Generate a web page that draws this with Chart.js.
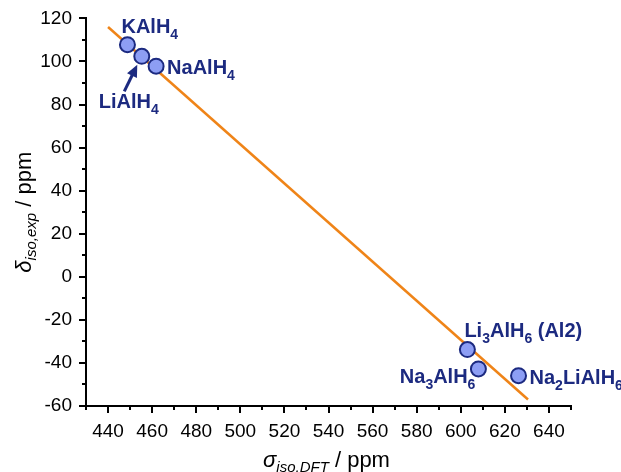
<!DOCTYPE html>
<html>
<head>
<meta charset="utf-8">
<script src="https://cdn.jsdelivr.net/npm/chart.js@4.4.0/dist/chart.umd.min.js"></script>
<style>
  body { margin: 0; background: #fff; }
  #wrap { width: 621px; height: 472px; }
</style>
</head>
<body>
<div id="wrap"><canvas id="nmr-chart" width="621" height="472"></canvas></div>
<script>
// compounds and their shifts
let compounds = ["KAlH4", "LiAlH4", "NaAlH4", "Li3AlH6 (Al2)", "Na3AlH6", "Na2LiAlH6"]
let sigmaDFT = [448.8, 455.3, 461.8, 603.0, 608.0, 626.2]
let deltaExp = [107.8, 102.4, 97.8, -33.8, -42.8, -45.9]

// linear fit line, two ends
let fitX = [440, 630.5]
let fitY = [116, -57]

let xTicks = [440, 460, 480, 500, 520, 540, 560, 580, 600, 620, 640]
let yTicks = [-60, -40, -20, 0, 20, 40, 60, 80, 100, 120]

let navy = "#1c2a80"
let font = "'Liberation Sans', Arial, sans-serif"

// rich text: list of [text, isSub]
let labelParts = {
    "KAlH4": [["KAlH", 0], ["4", 1]],
    "LiAlH4": [["LiAlH", 0], ["4", 1]],
    "NaAlH4": [["NaAlH", 0], ["4", 1]],
    "Li3AlH6 (Al2)": [["Li", 0], ["3", 1], ["AlH", 0], ["6", 1], [" (Al2)", 0]],
    "Na3AlH6": [["Na", 0], ["3", 1], ["AlH", 0], ["6", 1]],
    "Na2LiAlH6": [["Na", 0], ["2", 1], ["LiAlH", 0], ["6", 1]]
}
// label placement relative to its point: dx, dy (baseline), align
let labelPlace = [[-6, -12, "left"], [-43, 52, "left"], [11, 8, "left"],
                  [-3, -13, "left"], [-3, 14, "right"], [11, 8.5, "left"]]

function richWidth(ctx, parts, big, small, style) {
    let w = 0
    parts.forEach(p => {
        ctx.font = style + " " + (p[1] ? small : big) + "px " + font
        w += ctx.measureText(p[0]).width
    })
    return w
}

function drawRich(ctx, parts, x, y, big, small, style, subDy) {
    parts.forEach(p => {
        ctx.font = style + " " + (p[1] ? small : big) + "px " + font
        ctx.fillText(p[0], x, p[1] ? y + subDy : y)
        x += ctx.measureText(p[0]).width
    })
}

let extras = {
    id: "extras",
    afterDatasetsDraw(chart) {
        let ctx = chart.ctx
        let xs = chart.scales.x, ys = chart.scales.y
        let area = chart.chartArea
        ctx.save()

        // minor ticks
        ctx.strokeStyle = "#000"
        ctx.lineWidth = 2
        ctx.beginPath()
        for (let v = 430; v <= 650; v += 20) {
            let px = Math.round(xs.getPixelForValue(v))
            ctx.moveTo(px, area.bottom)
            ctx.lineTo(px, area.bottom + 4)
        }
        for (let v = -50; v <= 110; v += 20) {
            let py = Math.round(ys.getPixelForValue(v))
            ctx.moveTo(area.left, py)
            ctx.lineTo(area.left - 4, py)
        }
        ctx.stroke()

        // point labels
        ctx.fillStyle = navy
        ctx.textBaseline = "alphabetic"
        ctx.textAlign = "left"
        compounds.forEach((c, i) => {
            let px = xs.getPixelForValue(sigmaDFT[i])
            let py = ys.getPixelForValue(deltaExp[i])
            let pl = labelPlace[i]
            let parts = labelParts[c]
            let x = px + pl[0]
            if (pl[2] === "right") x -= richWidth(ctx, parts, 20, 14, "bold")
            drawRich(ctx, parts, x, py + pl[1], 20, 14, "bold", 6)
        })

        // arrow for LiAlH4
        let lx = xs.getPixelForValue(sigmaDFT[1]), ly = ys.getPixelForValue(deltaExp[1])
        let x0 = lx - 17.5, y0 = ly + 35, x1 = lx - 4.5, y1 = ly + 8.5
        let ang = Math.atan2(y1 - y0, x1 - x0)
        ctx.strokeStyle = navy
        ctx.lineWidth = 3
        ctx.beginPath()
        ctx.moveTo(x0, y0)
        ctx.lineTo(x1 - 8 * Math.cos(ang), y1 - 8 * Math.sin(ang))
        ctx.stroke()
        ctx.beginPath()
        ctx.moveTo(x1, y1)
        ctx.lineTo(x1 - 12 * Math.cos(ang) + 5.5 * Math.sin(ang), y1 - 12 * Math.sin(ang) - 5.5 * Math.cos(ang))
        ctx.lineTo(x1 - 12 * Math.cos(ang) - 5.5 * Math.sin(ang), y1 - 12 * Math.sin(ang) + 5.5 * Math.cos(ang))
        ctx.closePath()
        ctx.fill()

        // axis titles
        ctx.fillStyle = "#000"
        let xt = [["σ", 0, "italic"], ["iso,DFT", 1, "italic"], [" / ppm", 0, "normal"]]
        let yt = [["δ", 0, "italic"], ["iso,exp", 1, "italic"], [" / ppm", 0, "normal"]]
        let drawTitle = (parts, cx, cy) => {
            let w = 0
            parts.forEach(p => { ctx.font = p[2] + " " + (p[1] ? 15 : 22) + "px " + font; w += ctx.measureText(p[0]).width })
            let x = cx - w / 2
            parts.forEach(p => {
                ctx.font = p[2] + " " + (p[1] ? 15 : 22) + "px " + font
                ctx.fillText(p[0], x, p[1] ? cy + 5 : cy)
                x += ctx.measureText(p[0]).width
            })
        }
        drawTitle(xt, (area.left + area.right) / 2 - 2, 467)
        ctx.translate(31, ys.getPixelForValue(30))
        ctx.rotate(-Math.PI / 2)
        drawTitle(yt, 0, 0)

        ctx.restore()
    }
}

let canvas = document.querySelector("#nmr-chart")
let ctx = canvas.getContext("2d")

let chart = new Chart(ctx, {
    data: {
        datasets: [{
            type: "line",
            data: fitX.map((x, i) => ({ x: x, y: fitY[i] })),
            borderColor: "#ef8418",
            borderWidth: 2.5,
            pointRadius: 0,
            fill: false,
            order: 2
        }, {
            type: "scatter",
            data: sigmaDFT.map((x, i) => ({ x: x, y: deltaExp[i] })),
            backgroundColor: "#8d9ef4",
            borderColor: navy,
            borderWidth: 2,
            pointRadius: 7.5,
            order: 1
        }]
    },
    options: {
        responsive: false,
        animation: false,
        layout: { padding: { top: 17, right: 50, left: 0, bottom: 0 } },
        plugins: { legend: { display: false }, tooltip: { enabled: false } },
        scales: {
            x: {
                type: "linear",
                min: 430,
                max: 650,
                afterBuildTicks: s => { s.ticks = xTicks.map(v => ({ value: v })) },
                afterFit: s => { s.height = 66 },
                border: { display: true, color: "#000", width: 2 },
                grid: { drawOnChartArea: false, drawTicks: true, tickLength: 7, color: "#000", lineWidth: 2 },
                ticks: { color: "#000", font: { family: font, size: 19 }, padding: 7, autoSkip: false, maxRotation: 0 }
            },
            y: {
                type: "linear",
                min: -60,
                max: 120,
                afterBuildTicks: s => { s.ticks = yTicks.map(v => ({ value: v })) },
                afterFit: s => { s.width = 86 },
                border: { display: true, color: "#000", width: 2 },
                grid: { drawOnChartArea: false, drawTicks: true, tickLength: 7, color: "#000", lineWidth: 2 },
                ticks: { color: "#000", font: { family: font, size: 19 }, padding: 7, autoSkip: false }
            }
        }
    },
    plugins: [extras]
})
</script>
</body>
</html>
